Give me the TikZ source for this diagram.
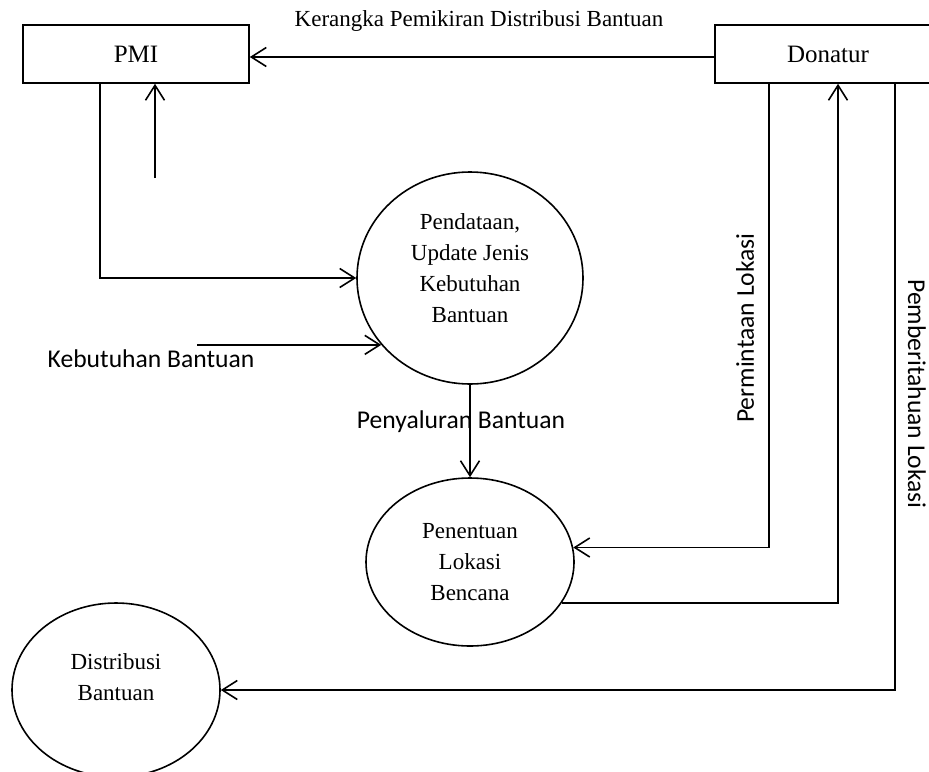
\documentclass[tikz,border=0pt]{standalone}
\usepackage{fontspec}
\setmainfont{Liberation Serif}
\newfontfamily\flowfont{Carlito}
\usetikzlibrary{shapes,arrows,positioning,arrows.meta}

\begin{document}
\begin{tikzpicture}[x=0.5pt,y=-0.5pt,
    entity/.style={draw, line width=0.8pt, minimum width=113pt, minimum height=29pt, inner sep=0pt, font=\fontsize{12.5}{14}\selectfont},
    proc/.style={draw, ellipse, line width=0.8pt, inner sep=0pt, align=center, font=\fontsize{11.5}{15.5}\selectfont},
    flow/.style={line width=0.8pt, -{Straight Barb[length=7.5pt,width=9.5pt]}},
    flowlabel/.style={font=\flowfont\fontsize{12.8}{15}\selectfont, inner sep=0pt}]
    \useasboundingbox (0,0) rectangle (929,771);

    % External entities
    \node[entity] (pmi) at (136,54) {PMI};
    \node[entity] (donatur) at (828,54) {Donatur};

    % Processes (text sits a little high, as in the original)
    \node[proc, minimum width=113pt, minimum height=106pt] (pendataan) at (470,278) {Pendataan,\\Update Jenis\\Kebutuhan\\Bantuan\\[-6pt]\mbox{}};
    \node[proc, minimum width=104pt, minimum height=84pt] (penentuan) at (470,562) {Penentuan\\Lokasi\\Bencana};
    \node[proc, minimum width=104pt, minimum height=87pt] (distribusi) at (116,690) {Distribusi\\Bantuan\\[-3pt]\mbox{}};

    % Flow labels
    \node[font=\fontsize{11.5}{14}\selectfont] (kerangka) at (479,21) {Kerangka Pemikiran Distribusi Bantuan};
    \node[flowlabel] (kebutuhan) at (151,359) {Kebutuhan Bantuan};
    \node[flowlabel] (penyaluran) at (461,422) {Penyaluran Bantuan};
    \node[flowlabel, rotate=90] (permintaan) at (745,328) {Permintaan Lokasi};
    \node[flowlabel, rotate=-90] (pemberitahuan) at (917,394) {Pemberitahuan Lokasi};

    % Free ends and bend columns
    \coordinate (pmiin) at (155,178);
    \coordinate (pmiout) at (100,0);
    \coordinate (kbin) at (197,345);
    \coordinate (rq) at (769,0);
    \coordinate (nt) at (838,0);
    \coordinate (pb) at (895,0);

    % Flows
    \draw[flow] ([yshift=-1.5pt]donatur.west) -- ([yshift=-1.5pt]pmi.east);
    \draw[flow] (pmiin) -- (pmiin |- pmi.south);
    \draw[flow] (pmi.south -| pmiout) |- (pendataan.west);
    \draw[flow] (pendataan.217 -| kbin) -- (pendataan.217);
    \draw[flow] (pendataan.south) -- (penentuan.north);
    \draw[flow] (donatur.south -| rq) |- (penentuan.8);
    \draw[flow] (penentuan.-24) -| (donatur.south -| nt);
    \draw[flow] (donatur.south -| pb) |- (distribusi.east);
\end{tikzpicture}
\end{document}
